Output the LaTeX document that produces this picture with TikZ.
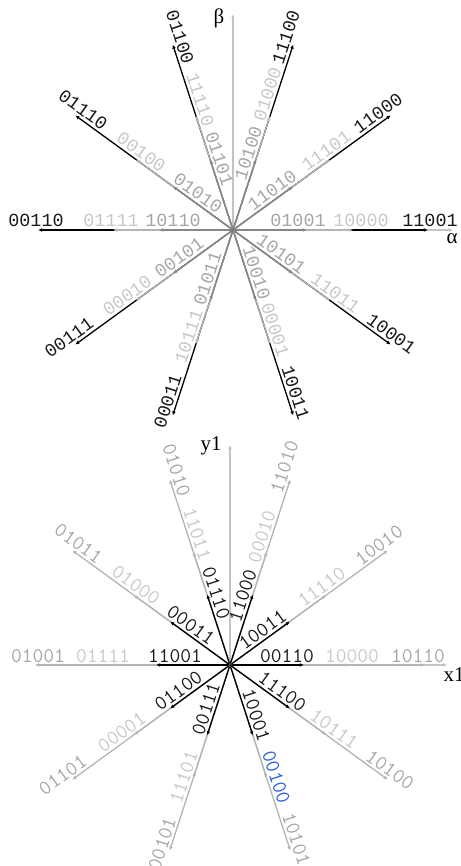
\documentclass[tikz,border=0pt]{standalone}
\usepackage{fontspec}
\usepackage{tikz}
\usetikzlibrary{arrows.meta,calc}
\newfontfamily\svmono{Liberation Mono}
\newfontfamily\svserif{Liberation Serif}
\definecolor{svdark}    {HTML}{878787}
\definecolor{svlight}   {HTML}{B4B4B4}
\definecolor{svaxis}    {HTML}{C4C4C4}
\definecolor{svtxtdark} {HTML}{A6A6A6}
\definecolor{svtxtlight}{HTML}{C8C8C8}
\definecolor{svblue}    {HTML}{2F5FD8}
\tikzset{
  svvec/.style={-{Latex[length=4.2bp,width=3.8bp]}, line width=1.3bp},
  svbig/.style={svvec, draw=black},
  svmid/.style={svvec, draw=svlight},
  svsmall/.style={svvec, draw=svdark},
  svaxisline/.style={svvec, draw=svaxis, line width=1.2bp},
  svlab/.style={anchor=south, inner sep=2.8bp,
                font=\svmono\fontsize{18.5}{18.5}\selectfont},
  svlabtt/.style={anchor=south, inner sep=2.5bp,
                  font=\ttfamily\fontsize{21}{21}\selectfont},
  svaxlab/.style={font=\svserif\fontsize{21}{21}\selectfont},
}

\begin{document}
\begin{tikzpicture}[x=1bp,y=1bp]
  \useasboundingbox (0,0) rectangle (461,866);

  % alpha-beta plane
  \coordinate (abO) at (233,636);
  \coordinate (abX) at (453,636);
  \coordinate (abY) at (233,852);
  \draw[svaxisline] (abO) -- (abX);
  \draw[svaxisline] (abO) -- (abY);
  \node[svaxlab] (alpha) at (452,627) {α};
  \node[svaxlab] (beta) at (219,848) {β};
  \foreach \a/\rot/\la/\lb/\lc/\da/\db/\dc in {
      0/0/01001/10000/11001/65/128/197,
      36/36/11010/11101/11000/55/122/186,
      72/72/10100/01000/11100/78/140/200,
      108/-72/01101/11110/01100/72/134/200,
      144/-36/01010/00100/01110/50/120/192,
      180/0/10110/01111/00110/60/122/197,
      216/36/00101/00010/00111/60/124/196,
      252/72/01011/10111/00011/54/115/183,
      288/-72/10010/00001/10011/48/108/174,
      324/-36/10101/11011/10001/53/120/189}{
    \coordinate (abS\a) at ($(abO)+(\a:74)$);
    \coordinate (abM\a) at ($(abO)+(\a:120)$);
    \coordinate (abL\a) at ($(abO)+(\a:195)$);
    \draw[svbig] (abO) -- (abL\a);
    \draw[svmid] (abO) -- (abM\a);
    \draw[svsmall] (abO) -- (abS\a);
    \node[svlab, rotate=\rot, text=svtxtdark] (abs\a) at ($(abO)+(\a:\da)$) {\la};
    \node[svlab, rotate=\rot, text=svtxtlight] (abm\a) at ($(abO)+(\a:\db)$) {\lb};
    \node[svlab, rotate=\rot, text=black!90] (abl\a) at ($(abO)+(\a:\dc)$) {\lc};
  }

  % x1-y1 plane
  \coordinate (xyO) at (230,201);
  \coordinate (xyX) at (447,201);
  \coordinate (xyY) at (230,421);
  \draw[svaxisline] (xyO) -- (xyX);
  \draw[svaxisline] (xyO) -- (xyY);
  \node[svaxlab] (xone) at (454,191) {x1};
  \node[svaxlab] (yone) at (211,420) {y1};
  \foreach \a/\rot/\la/\lb/\lc/\da/\db/\dc/\cb in {
      0/0/00110/10000/10110/57/122/188/svtxtlight,
      36/36/10011/11110/10010/47/120/191/svtxtlight,
      72/72/11000/00010/11010/70/132/205/svtxtlight,
      108/-72/01110/11011/01010/73/135/202/svtxtlight,
      144/-36/00011/01000/01011/55/123/194/svtxtlight,
      180/0/11001/01111/01001/55/127/192/svtxtlight,
      216/36/01100/00001/01101/57/127/200/svtxtlight,
      252/72/00111/11101/00101/49/121/191/svtxtlight,
      288/-72/10001/00100/10101/56/121/186/svblue,
      324/-36/11100/10111/10100/58/122/191/svtxtlight}{
    \coordinate (xyS\a) at ($(xyO)+(\a:74)$);
    \coordinate (xyM\a) at ($(xyO)+(\a:119)$);
    \coordinate (xyL\a) at ($(xyO)+(\a:195)$);
    \draw[svmid] (xyO) -- (xyL\a);
    \draw[svmid] (xyO) -- (xyM\a);
    \draw[svbig] (xyO) -- (xyS\a);
    \node[svlabtt, rotate=\rot, text=black!90] (xys\a) at ($(xyO)+(\a:\da)$) {\la};
    \node[svlabtt, rotate=\rot, text=\cb] (xym\a) at ($(xyO)+(\a:\db)$) {\lb};
    \node[svlabtt, rotate=\rot, text=svtxtdark] (xyl\a) at ($(xyO)+(\a:\dc)$) {\lc};
  }
\end{tikzpicture}
\end{document}
